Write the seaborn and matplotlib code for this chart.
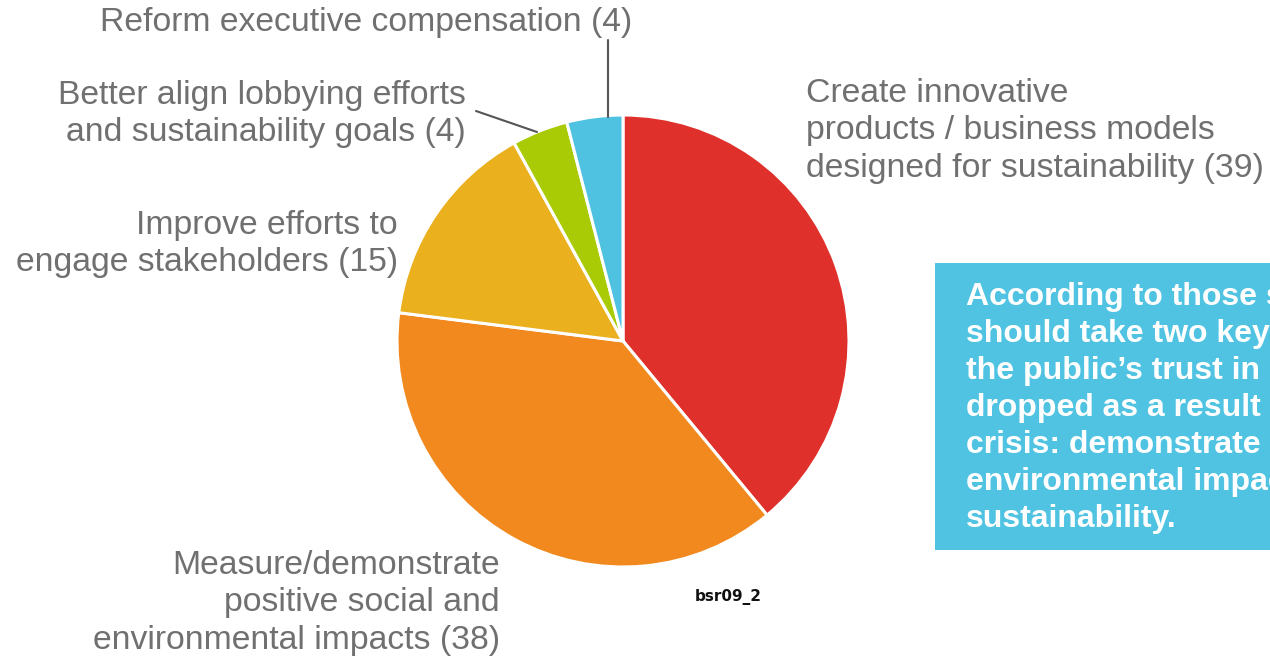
import matplotlib
matplotlib.use("Agg")
import matplotlib.pyplot as plt
from matplotlib.patches import Rectangle
from matplotlib.lines import Line2D
import seaborn as sns

# Survey answers (count of responses)
labels = [
    "Create innovative\nproducts / business models\ndesigned for sustainability (39)",
    "Measure/demonstrate\npositive social and\nenvironmental impacts (38)",
    "Improve efforts to\nengage stakeholders (15)",
    "Better align lobbying efforts\nand sustainability goals (4)",
    "Reform executive compensation (4)",
]
values = [39, 38, 15, 4, 4]
colors = ["#E0302B", "#F2891E", "#EAB01D", "#A8CB05", "#4EC2E0"]

note = ("According to those surveyed, companies\n"
        "should take two key steps to rebuild\n"
        "the public\u2019s trust in business that\n"
        "dropped as a result of the financial\n"
        "crisis: demonstrate positive social and\n"
        "environmental impacts and innovate for\n"
        "sustainability.")

W, H = 1270, 657
sns.set_theme(style="white")
plt.rcParams["font.family"] = ["Liberation Sans", "DejaVu Sans"]


def px(x, y):
    # pixel position (top-left origin) -> figure fraction
    return x / W, 1 - y / H


fig = plt.figure(figsize=(W / 100, H / 100), dpi=100)
fig.patch.set_facecolor("white")

# pie centre (623, 341), radius 226 px
cx, cy, r = 623, 341, 226
ax = fig.add_axes([(cx - r) / W, (H - cy - r) / H, 2 * r / W, 2 * r / H])
wedges, _ = ax.pie(values, colors=colors, startangle=90, counterclock=False,
                   radius=1, wedgeprops=dict(edgecolor="white", linewidth=2.2))
ax.set_xlim(-1, 1)
ax.set_ylim(-1, 1)
ax.set_aspect("equal")
ax.axis("off")

gray = "#707070"
fs = 24.3
ls = 1.25
fig.text(*px(806, 131), labels[0], ha="left", va="center", fontsize=fs,
         color=gray, linespacing=ls)
fig.text(*px(500, 603), labels[1], ha="right", va="center", fontsize=fs,
         color=gray, linespacing=ls)
fig.text(*px(398, 244), labels[2], ha="right", va="center", fontsize=fs,
         color=gray, linespacing=ls)
fig.text(*px(466, 114), labels[3], ha="right", va="center", fontsize=fs,
         color=gray, linespacing=ls)
fig.text(*px(632, 23), labels[4], ha="right", va="center", fontsize=fs,
         color=gray)

# leader lines to the two small wedges
for (x0, y0), (x1, y1) in [((608, 40), (608, 117)), ((476, 111), (537, 132))]:
    a, b = px(x0, y0)
    c, d = px(x1, y1)
    fig.add_artist(Line2D([a, c], [b, d], color="#555555", linewidth=1.5))

fig.text(*px(728, 597), "bsr09_2", ha="center", va="center", fontsize=11,
         color="#111111", family=["DejaVu Sans Condensed", "DejaVu Sans"],
         fontweight="bold")

# callout box
bx0, by0 = px(935, 550)
fig.add_artist(Rectangle((bx0, by0), (W - 935 + 10) / W, (550 - 263) / H,
                         transform=fig.transFigure, facecolor="#4FC3E1",
                         edgecolor="none"))
fig.text(*px(966, 408), note, ha="left", va="center", fontsize=23,
         color="white", fontweight="bold", linespacing=1.3)

fig.savefig("out.png", dpi=100)
